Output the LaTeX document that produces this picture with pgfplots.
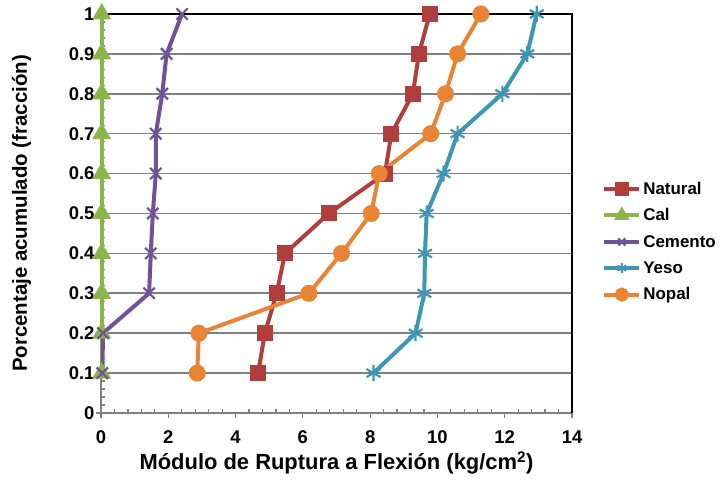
\documentclass[border=0pt]{standalone}
\usepackage{pgfplots}
\pgfplotsset{compat=1.18}
\usepackage{fontspec}
\setmainfont{Liberation Sans}
\definecolor{cnat}{RGB}{175,62,60}
\definecolor{ccal}{RGB}{140,180,75}
\definecolor{ccem}{RGB}{112,82,152}
\definecolor{cyes}{RGB}{60,150,180}
\definecolor{cnop}{RGB}{232,132,52}
\definecolor{cgrid}{RGB}{128,128,128}
\begin{document}
\begin{tikzpicture}[x=1bp,y=1bp]
\useasboundingbox (0,0) rectangle (722,481);
\begin{axis}[
  at={(101bp,68bp)}, anchor=south west,
  scale only axis, width=471bp, height=399bp,
  xmin=0, xmax=14, ymin=0, ymax=1,
  xtick={0,2,...,14}, ytick={0,0.1,...,1},
  yticklabels={0,0.1,0.2,0.3,0.4,0.5,0.6,0.7,0.8,0.9,1},
  minor x tick num=4, minor y tick num=4,
  tick align=inside, major tick length=-5bp, minor tick length=4bp,
  tick style={cgrid, line width=1.2bp},
  ymajorgrids, major grid style={cgrid, line width=1.6bp},
  axis line style={cgrid, line width=1.6bp},
  xtick pos=bottom, ytick pos=left,
  /pgf/number format/assume math mode=true,
  ticklabel style={font=\bfseries\fontsize{18.5}{21}\selectfont},
  xticklabel style={yshift=-14bp},
  yticklabel style={xshift=-3bp},
  xlabel={Módulo de Ruptura a Flexión (kg/cm\textsuperscript{2})},
  ylabel={Porcentaje acumulado (fracción)},
  xlabel style={font=\bfseries\fontsize{22}{25}\selectfont, yshift=-1bp},
  ylabel style={font=\bfseries\fontsize{20.5}{23}\selectfont, yshift=31bp},
  legend style={at={(rel axis cs:1.064,0.585)}, anchor=north west, draw=none, fill=none,
    font=\bfseries\fontsize{17}{20}\selectfont, row sep=9bp, inner sep=0pt},
  legend cell align=left,
  legend image code/.code={\draw[mark repeat=2, mark phase=2, #1, mark size=5bp]
     plot coordinates {(0bp,0bp) (17.5bp,0bp) (35bp,0bp)};},
  every axis plot/.append style={line width=4bp},
  clip=false,
]
\addplot[cnat, mark=square*, mark size=6bp, mark options={solid}] coordinates {
(4.67,0.1) (4.87,0.2) (5.22,0.3) (5.47,0.4) (6.77,0.5) (8.44,0.6) (8.63,0.7) (9.27,0.8) (9.45,0.9) (9.77,1.0)};
\addlegendentry{Natural}
\addplot[ccal, mark=triangle*, mark size=7bp] coordinates {
(0.02,0.1) (0.02,0.2) (0.02,0.3) (0.02,0.4) (0.02,0.5) (0.02,0.6) (0.02,0.7) (0.02,0.8) (0.02,0.9) (0.02,1.0)};
\addlegendentry{Cal}
\addplot[ccem, mark=x, mark size=8bp, mark options={line width=2.2bp}] coordinates {
(0.04,0.1) (0.06,0.2) (1.43,0.3) (1.48,0.4) (1.54,0.5) (1.63,0.6) (1.63,0.7) (1.82,0.8) (1.95,0.9) (2.41,1.0)};
\addlegendentry{Cemento}
\addplot[cyes, mark=asterisk, mark size=8bp, mark options={line width=2.2bp}] coordinates {
(8.10,0.1) (9.35,0.2) (9.61,0.3) (9.63,0.4) (9.68,0.5) (10.18,0.6) (10.60,0.7) (11.93,0.8) (12.67,0.9) (12.95,1.0)};
\addlegendentry{Yeso}
\addplot[cnop, mark=*, mark size=6.5bp] coordinates {
(2.86,0.1) (2.91,0.2) (6.18,0.3) (7.15,0.4) (8.03,0.5) (8.27,0.6) (9.80,0.7) (10.24,0.8) (10.60,0.9) (11.29,1.0)};
\addlegendentry{Nopal}
\draw[black, line width=2bp] (rel axis cs:0,1) -- (rel axis cs:1,1) -- (rel axis cs:1,0);
\end{axis}
\end{tikzpicture}
\end{document}
